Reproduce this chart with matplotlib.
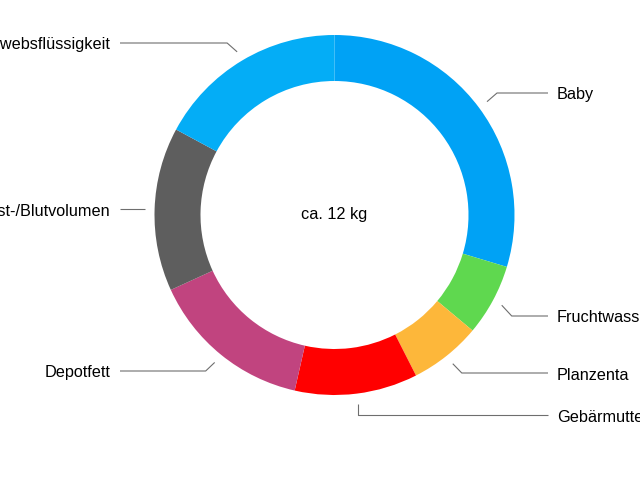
import matplotlib
matplotlib.use('Agg')
from matplotlib import pyplot as plt
import numpy as np

plt.rcParams['font.family'] = ['Liberation Sans', 'DejaVu Sans']

labels = ["Baby", "Fruchtwasser", "Planzenta", "Gebärmutter", "Depotfett",
          "Brust-/Blutvolumen", "Gewebsflüssigkeit"]
weights = [3.55, 0.77, 0.77, 1.32, 1.75, 1.76, 2.05]
colors = ["#00a2f5", "#5fd84f", "#fdb73a", "#ff0000", "#c1447f", "#5e5e5e", "#04adf6"]
center_text = "ca. 12 kg"

# label layout (pixel coords, y measured from top)
label_y = [93, 316, 373, 415, 371, 209, 43]
elbow_dx = [10, 10, 9, 0, -9, 0, -10]
right_x = 548   # end of leader lines on the right
left_x = 120    # end of leader lines on the left

cx, cy = 334.5, 265   # ring center, y up
R, W = 180, 46

fig = plt.figure(figsize=(6.4, 4.8), dpi=100)
ax = fig.add_axes([0, 0, 1, 1])
ax.pie(weights, colors=colors, startangle=90, counterclock=False,
       center=(cx, cy), radius=R,
       wedgeprops=dict(width=W, linewidth=0))
ax.set_xlim(0, 640)
ax.set_ylim(0, 480)
ax.set_aspect('equal')
ax.axis('off')

ax.text(cx, cy, center_text, ha='center', va='center', fontsize=11.7)

total = sum(weights)
cum = np.cumsum(weights)
for i, lab in enumerate(labels):
    a = np.radians(360 * (cum[i] - weights[i] / 2) / total)
    x0 = cx + (R + 10) * np.sin(a)
    y0 = cy + (R + 10) * np.cos(a)
    ye = 480 - label_y[i]
    xe = x0 + elbow_dx[i]
    if x0 > cx:
        xs = [x0, xe, right_x]
        tx, ha = right_x + 9, 'left'
    else:
        xs = [x0, xe, left_x]
        tx, ha = left_x - 10, 'right'
    ax.plot(xs, [y0, ye, ye], color='#6e6e6e', lw=0.8, solid_capstyle='butt')
    ax.text(tx, ye - 6.5, lab, ha=ha, va='baseline', fontsize=11.7, color='black')

fig.savefig('out.png', dpi=100)
